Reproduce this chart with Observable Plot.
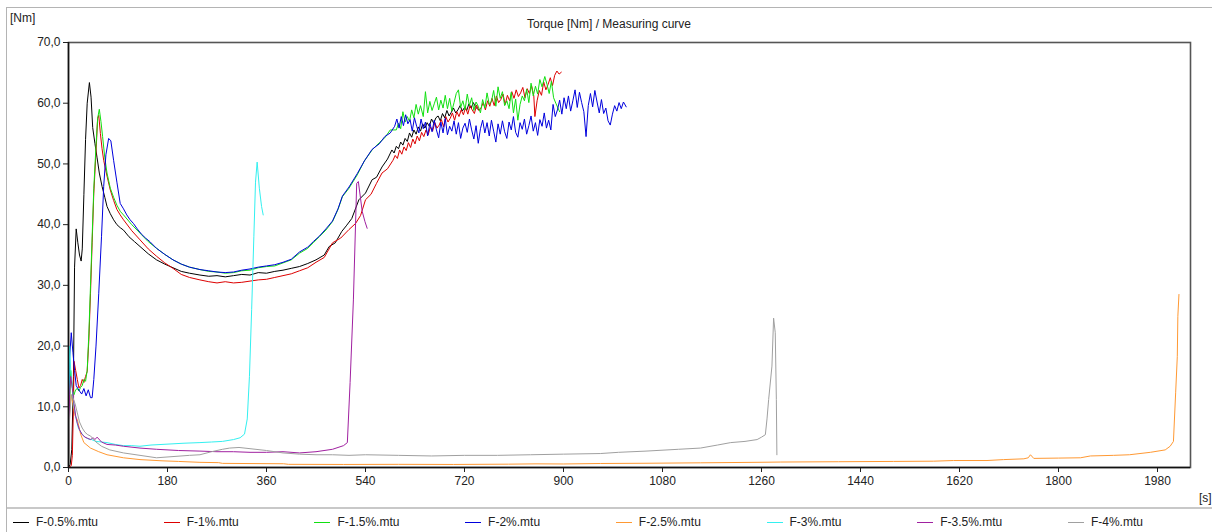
<!DOCTYPE html>
<html><head><meta charset="utf-8">
<script src="https://cdn.jsdelivr.net/npm/d3@7"></script>
<script src="https://cdn.jsdelivr.net/npm/@observablehq/plot@0.6"></script>
<style>
body{margin:0;background:#fff;font-family:"Liberation Sans",Arial,sans-serif;}
#wrap{position:relative;width:1212px;height:532px;overflow:hidden;background:#fff}
#border{position:absolute;left:6px;top:7px;width:1220px;height:540px;border:1px solid #b4b4b4;box-sizing:border-box}
#title{position:absolute;left:6px;width:1206px;top:17px;text-align:center;font-size:12px;color:#222;line-height:14px}
#ylab{position:absolute;left:10px;top:11px;font-size:12px;color:#222;line-height:14px}
#chart{position:absolute;left:0;top:30px}
#xlab{position:absolute;left:1199px;top:491px;font-size:12px;color:#222;line-height:14px}
#sep{position:absolute;left:7px;top:507px;width:1210px;height:2px;background:#c8c8c8}
.li{position:absolute;top:515px;font-size:12px;color:#222;line-height:14px;white-space:nowrap}
.sw{display:inline-block;width:16px;height:1px;vertical-align:middle;margin-right:7px;margin-top:-1px}
</style></head>
<body>
<div id="wrap">
  <div id="border"></div>
  <div id="ylab">[Nm]</div>
  <div id="title">Torque [Nm] / Measuring curve</div>
  <div id="chart"></div>
  <div id="xlab">[s]</div>
  <div id="sep"></div>
  <div id="legend"></div>
</div>
<script>
const seriesNames = ["F-0.5%.mtu","F-1%.mtu","F-1.5%.mtu","F-2%.mtu","F-2.5%.mtu","F-3%.mtu","F-3.5%.mtu","F-4%.mtu"];
const seriesColors = ["#000000","#dd0000","#11e011","#0000dd","#ff9933","#33f0f0","#a020a0","#a0a0a0"];

const xTicks = [0,180,360,540,720,900,1080,1260,1440,1620,1800,1980];
const yTicks = [0,10,20,30,40,50,60,70];

// F-0.5%
const t05 = [0,3,6,9,11,14,17,20,23,25,28,31,34,38,41,44,48,52,56,61,66,70,76,82,88,94,100,110,120,130,145,160,175,190,205,220,239,255,270,285,300,315,330,345,360,375,390,405,420,435,450,465,474,485,497,505,515,528,540,552,560,570,580,
  588,592,596,600,604,608,612,616,620,624,628,632,636,640,644,648,652,656,660,664,668,672,676,680,684,688,692,696,700,704,708,712,716,720,724,728,732,736,740,744,748];
const v05 = [0,0.5,3,15,33,39.3,37,35,34,36,45,54,60,63.4,61,56,53.4,51,48.5,46.3,44.5,43,41.8,40.8,40,39.5,39.1,38,37.2,36.4,35.2,34.2,33.5,32.9,32.3,32,31.7,31.5,31.6,31.4,31.6,31.8,31.7,32.1,32,32.3,32.5,32.8,33.1,33.6,34.2,35,36.4,37,38.9,39.8,41,44.1,45.2,47.4,47.8,49.5,50.8,
  52.3,51.8,52.9,52.5,53.6,53.1,54.2,53.7,55.1,54.4,55.6,54.9,56.1,55.4,56.6,55.9,56.8,56.2,57.4,56.7,57.6,57.9,57.1,58.3,57.6,58.8,57.9,58.5,59.2,58.4,58.9,59.6,58.7,59.3,58.8,59.9,59.2,60.1,59.4,59.0,58.9];
// F-1%
const t1 = [0,5,7,9,10,13,16,19,22,25,28,31,34,37,40,43,46,50,53,55,58,61,64,70,76,82,88,94,100,115,130,145,160,175,190,205,220,239,255,270,285,300,315,330,345,360,375,390,405,420,435,450,465,480,495,510,522,531,540,550,560,570,580,
  590,594,598,602,606,610,614,618,622,626,630,634,638,642,646,650,654,658,662,666,670,674,678,682,686,690,694,698,702,706,710,714,718,722,726,730,734,738,742,746,750,754,758,762,766,770,774,778,782,786,790,794,798,802,806,810,814,818,822,826,830,834,838,842,846,848,852,856,860,864,868,872,876,880,884,888,892,896];
const v1 = [0,0.3,2,10,17.5,16,14.5,13.1,13.5,14.5,14,15,15.8,21,28.7,37,45.2,52,57.5,58,55,52.5,50.6,48,45.7,44,42.5,41.6,40.8,39,37.5,36,34.8,33.7,32.8,31.8,31.3,30.9,30.6,30.4,30.6,30.4,30.5,30.7,30.9,31,31.3,31.6,31.9,32.4,32.9,33.8,34.6,37,37.8,39.2,40.2,41.5,44.1,45,46.8,48.5,49.2,
  50.6,51.4,50.9,52.3,51.6,52.8,52.2,53.5,52.7,54.1,53.3,54.6,53.8,55.2,54.5,55.6,54.8,56.1,55.4,56.8,55.9,56.4,57.3,56.1,57.8,56.9,57.5,58.4,57.2,58.6,57.8,58.9,58.1,59.3,58.2,59.6,58.9,58.3,59.7,58.8,59.2,60.1,58.9,60.4,59.5,60.8,59.6,61.2,60.1,60.6,61.5,59.8,61.3,60.4,61.9,60.8,62.2,61.1,61.7,62.6,60.9,62.4,61.6,62.9,61.2,57.8,60.4,62.1,61.3,63.5,62.2,63.1,64.2,62.9,64.6,65.3,64.8,65.1];
// F-1.5%
const t15 = [0,2,4,6,8,10,13,16,19,22,25,28,31,34,37,40,43,46,50,53,56,59,62,66,70,76,82,88,94,100,115,130,145,160,175,190,205,220,239,255,270,285,300,315,330,345,360,375,390,405,420,435,445,456,468,480,490,498,510,525,538,552,565,575,585,
  596,600,604,608,612,616,620,624,628,632,636,640,645,649,653,657,661,665,669,673,677,681,685,689,693,697,701,705,709,713,717,721,725,729,733,737,741,745,749,753,757,761,765,769,773,777,781,785,789,793,797,801,805,809,813,817,821,825,829,833,837,841,845,849,853,857,861,866,870,874,878,882,886,890,893];
const v15 = [0,10,16,14,12.5,12,12.8,13,12.6,13.2,13.5,14.5,14.2,16,22,30,38,46,53,57.5,59,57,54.5,51,48.5,46,44.5,43.2,42.2,41.6,40,38.6,37.2,36.1,35.1,34.2,33.5,33,32.6,32.3,32.2,32,32.1,32.4,32.5,32.9,33.1,33.2,33.7,34.2,35.3,36.1,37,38,39.1,40.5,42.5,44.6,46,48.2,50.5,52.3,53.5,54.3,55.6,
  55.6,56.7,55.8,58.6,56.9,57.8,57,58.9,57.6,59.8,58.2,59.6,57.8,61.9,58.4,60.3,58.8,59.9,61,58.9,60.5,59.2,61.3,59.1,60.8,58.7,60.1,61.6,62.2,59.3,60.4,58.9,61.5,59.6,60.9,58.8,60.2,59.5,58.4,60.6,59.2,61.7,59.8,60.3,62.1,59.5,62.7,60.8,61.9,59.6,60.4,59.1,61.8,58.4,60.7,57.2,59.8,61.2,60.4,62.3,60.1,63.3,61.2,62.8,61.5,63.9,62.7,64.4,63.1,61.6,63.6,60.9,60,59.2,58.6];
// F-2%
const t2 = [0,2,5,8,11,14,17,20,24,28,32,36,40,43,46,50,55,60,64,68,73,77,82,88,94,100,106,112,118,125,133,140,148,160,175,190,205,220,239,255,270,285,300,315,330,345,360,375,390,405,420,435,445,456,468,480,490,498,510,525,538,552,565,575,585,
  593,597,601,605,609,613,617,621,625,629,633,637,641,645,649,653,657,661,665,669,673,677,681,685,689,693,697,701,705,709,713,717,721,725,729,733,737,741,745,749,753,757,761,765,769,773,777,781,785,789,793,797,801,805,809,813,817,821,825,829,833,837,841,845,849,853,857,861,865,869,873,877,881,885,889,893,897,901,905,909,913,917,921,925,929,933,937,941,945,949,953,957,961,965,969,973,977,981,985,989,993,997,1001,1005,1009,1014];
const v2 = [0,18,22.2,19,16,13.5,13,12.6,12.1,13,11.8,12.8,11.5,11.5,14.5,20,28.7,38,46.3,51.5,54.2,53.8,50.6,47,43.5,42.6,41.6,40.8,40.2,39.3,38.4,37.8,37.2,36.1,35.1,34.2,33.5,33,32.6,32.4,32.2,32.1,32.2,32.5,32.7,33,33.2,33.4,33.8,34.3,35.5,36.3,37.2,38.1,39.3,40.6,42.6,44.7,46.2,48.4,50.5,52.4,53.3,54.5,55.1,
  56.2,57.4,55.9,57.8,56.3,58.1,56.6,57.3,55.4,57.6,56.2,55.1,57.4,55.8,56.9,54.6,56.7,55.3,57.2,55.6,54.3,56.9,55.1,57.5,54.8,56.2,55.4,57.1,54.9,56.8,54.2,55.9,56.7,55.2,57.4,55.6,54.1,56.3,53.4,55.8,57.2,55.1,56.8,54.6,57.2,55.4,53.6,56.6,54.9,57.1,55.3,54.2,56.9,55.6,57.8,55.2,54.4,56.8,55.7,57.4,54.9,56.3,57.9,55.4,56.8,54.7,57.3,56.2,58.4,55.9,57.2,55.6,59.8,57.8,58.9,60.5,58.2,60.9,59.1,61.2,58.7,60.4,62.2,59.3,61.8,60.1,58.6,54.5,59.6,61.6,59.4,62.1,60.2,58.4,60.6,58.3,59.2,57.1,56.4,58.2,59.6,58.7,60.1,59.1,60.2,59.4];
// F-2.5%
const t25 = [0,2,5,8,12,16,22,28,40,55,70,100,130,170,200,239,273,280,330,391,400,500,600,700,800,850,900,967,1050,1149,1270,1295,1400,1500,1573,1609,1670,1700,1737,1745,1749,1755,1800,1840,1858,1900,1929,1967,1994,2003,2009,2013,2016,2017,2019];
const v25 = [0,9,12,10.5,8.5,7.9,5.5,4.1,3.2,2.6,2.1,1.6,1.3,1.1,1,0.85,0.8,0.68,0.65,0.62,0.52,0.5,0.52,0.5,0.55,0.6,0.58,0.66,0.7,0.77,0.87,0.9,0.95,1,1.04,1.15,1.15,1.3,1.43,1.6,2.1,1.5,1.55,1.6,1.9,2,2.1,2.5,2.9,3.5,4.3,12.3,18.3,24.9,28.5];
// F-3%
const t3 = [0,2,4,7,10,14,18,24,30,36,42,50,60,70,85,100,115,130,150,170,190,210,239,260,280,300,312,320,325,329,333,337,340,343,347,351,354];
const v3 = [0,20,16,13,10,8,6.5,5.6,5,4.7,4.6,4.3,4.2,4.1,3.8,3.6,3.6,3.5,3.7,3.8,3.9,4,4.1,4.2,4.3,4.6,4.9,5.5,8,15,26,38,47,50.3,46,43,41.6];
// F-3.5%
const t35 = [0,2,4,7,10,13,16,20,25,30,35,40,45,48,52,55,60,70,85,100,130,160,200,239,270,300,330,360,390,420,450,480,500,507,512,518,524,527,534,539,543];
const v35 = [0,12,15,13,10.5,8.5,7.3,6.2,5.4,5,4.8,4.6,4.9,4.6,5,4.7,4.2,3.8,3.7,3.5,3.2,3,2.8,2.7,2.6,2.6,2.5,2.5,2.6,2.4,2.6,3,3.6,4.1,14,27.6,46.8,47.1,42.2,40.5,39.4];
// F-4%
const t4 = [0,2,5,8,12,16,20,25,30,35,40,50,60,75,100,130,160,190,220,239,260,280,293,310,330,360,390,420,450,480,510,540,600,660,720,780,840,900,967,1000,1050,1109,1149,1180,1204,1230,1252,1260,1267,1270,1273,1279,1282,1285,1287,1288];
const v4 = [0,8,12,11.5,10.5,9,7.5,6.5,5.8,5.4,5.2,4.2,3.5,2.9,2.4,2,1.6,1.8,2,2.1,2.6,3,3.2,3.3,3.1,2.8,2.4,2.2,2.1,2.1,2,2.1,2,1.9,2,2,2.1,2.2,2.3,2.5,2.7,3,3.2,3.7,4.1,4.3,4.6,5,5.4,8,11.2,16.7,24.6,22.2,11.2,2.1];

const allT = [t05,t1,t15,t2,t25,t3,t35,t4];
const allV = [v05,v1,v15,v2,v25,v3,v35,v4];

const data = [];
allT.forEach((ts, i) => ts.forEach((t, j) => data.push({series: seriesNames[i], t, v: allV[i][j]})));

const fmt = d => d.toFixed(1).replace(".", ",");

const chart = Plot.plot({
  width: 1212,
  height: 478,
  marginLeft: 68,
  marginRight: 22,
  marginTop: 12,
  marginBottom: 41,
  style: {fontFamily: '"Liberation Sans", Arial, sans-serif', fontSize: "12px", color: "#222", background: "transparent"},
  x: {domain: [0, 2040]},
  y: {domain: [0, 70]},
  color: {domain: seriesNames, range: seriesColors},
  marks: [
    Plot.frame({stroke: "#555", strokeWidth: 1.6}),
    Plot.axisX({ticks: xTicks, tickSize: 5, tickPadding: 4, tickFormat: d => String(d), label: null, stroke: "#222"}),
    Plot.axisY({ticks: yTicks, tickSize: 5, tickPadding: 3, tickFormat: fmt, label: null, stroke: "#222"}),
    Plot.line(data, {x: "t", y: "v", z: "series", stroke: "series", strokeWidth: 1, strokeLinejoin: "round"}),
    Plot.ruleX([0], {stroke: "#111", strokeWidth: 1.5}),
    Plot.ruleY([0], {stroke: "#111", strokeWidth: 1.5})
  ]
});
document.getElementById("chart").appendChild(chart);

const legend = document.getElementById("legend");
seriesNames.forEach((name, i) => {
  const d = document.createElement("div");
  d.className = "li";
  d.style.left = (13 + i * 150.7) + "px";
  const s = document.createElement("span");
  s.className = "sw";
  s.style.background = seriesColors[i];
  d.appendChild(s);
  d.appendChild(document.createTextNode(name));
  legend.appendChild(d);
});
</script>
</body></html>
